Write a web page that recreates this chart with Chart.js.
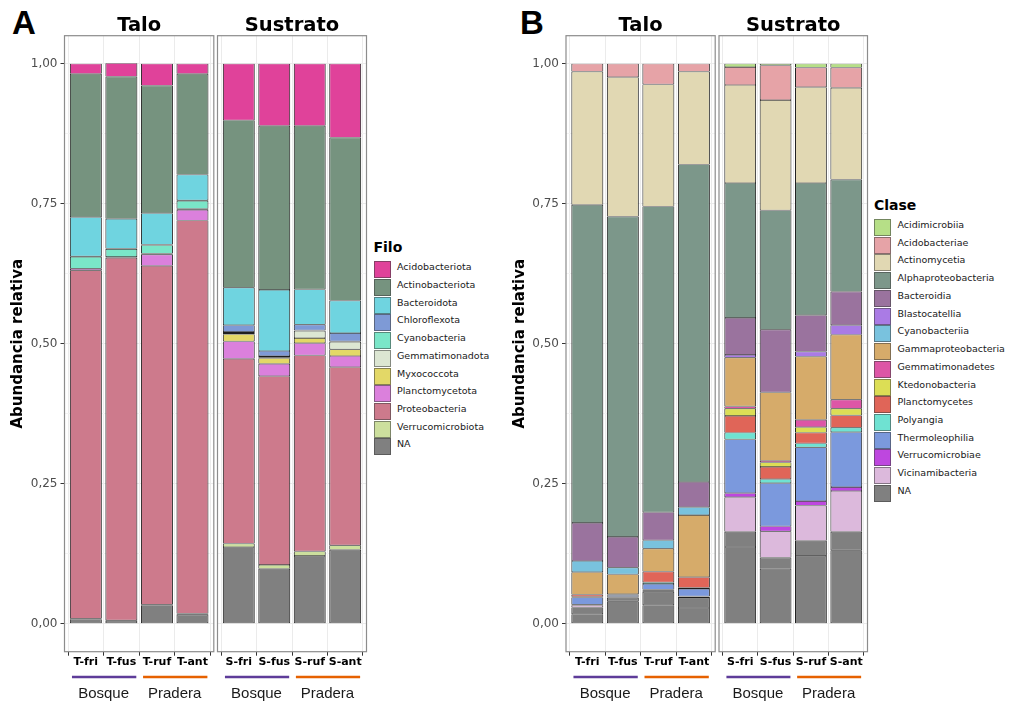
<!DOCTYPE html>
<html>
<head>
<meta charset="utf-8">
<title>Abundancia relativa por Filo y Clase</title>
<script src="https://cdn.jsdelivr.net/npm/chart.js@4.4.1/dist/chart.umd.min.js"></script>
<style>
  html, body { margin: 0; padding: 0; background: #fff; }
  #fig { position: relative; width: 1010px; height: 703px; overflow: hidden; background: #fff; }
  canvas { position: absolute; top: 0; }
  .tag { position: absolute; font: bold 33px "Liberation Sans", Arial, sans-serif; line-height: 33px; color: #000; }
  .legend { position: absolute; top: 0; }
  .lt { position: absolute; left: 0; font: bold 14px "DejaVu Sans", sans-serif; line-height: 16px; white-space: nowrap; color: #000; }
  .lr { position: absolute; left: 0; height: 17px; white-space: nowrap; }
  .lk { position: absolute; left: 0; top: 0; width: 17px; height: 17px; box-sizing: border-box; border: 1px solid rgba(60,60,60,0.55); }
  .ll { position: absolute; left: 23.5px; top: 0; line-height: 17px; font: 9.5px "DejaVu Sans", sans-serif; color: #1a1a1a; }
</style>
</head>
<body>
<div id="fig">
  <div class="tag" style="left:12px; top:6px;">A</div>
  <div class="tag" style="left:520px; top:6px;">B</div>
  <canvas id="aTalo" width="216" height="703" style="left:0px"></canvas>
  <canvas id="aSustrato" width="156" height="703" style="left:215px"></canvas>
  <canvas id="bTalo" width="216" height="703" style="left:502px"></canvas>
  <canvas id="bSustrato" width="156" height="703" style="left:716px"></canvas>
  <div id="legFilo" class="legend" style="left:373.5px"></div>
  <div id="legClase" class="legend" style="left:874px"></div>
</div>
<script>
// ---- samples and groups ----
const samplesTalo = ['T-fri', 'T-fus', 'T-ruf', 'T-ant'];
const samplesSustrato = ['S-fri', 'S-fus', 'S-ruf', 'S-ant'];
const groupNames = ['Bosque', 'Pradera'];
const groupMembers = [[1, 2], [3, 4]];
const groupColors = ['#5E3C99', '#E66100'];

// ---- y axis ----
const yTickValues = [0, 0.25, 0.5, 0.75, 1];
const yTickLabels = ['0,00', '0,25', '0,50', '0,75', '1,00'];
const yTitle = 'Abundancia relativa';

// ---- Filo (phylum) ----
const filoNames = ['Acidobacteriota', 'Actinobacteriota', 'Bacteroidota', 'Chloroflexota', 'Cyanobacteria',
  'Gemmatimonadota', 'Myxococcota', 'Planctomycetota', 'Proteobacteria', 'Verrucomicrobiota', 'NA'];
const filoColors = ['#E0429A', '#76937F', '#6FD4E0', '#7E9AD6', '#7AE6C8',
  '#DCE6D2', '#E3D867', '#DB80DC', '#CD7A8C', '#CCDF9D', '#808080'];
// rows follow filoNames, columns follow the samples
const filoTalo = [
  [0.018, 0.024, 0.039, 0.018],
  [0.256, 0.254, 0.228, 0.180],
  [0.070, 0.053, 0.056, 0.046],
  [0.001, 0.001, 0.001, 0.001],
  [0.021, 0.014, 0.015, 0.014],
  [0.000, 0.000, 0.000, 0.000],
  [0.000, 0.001, 0.002, 0.002],
  [0.003, 0.001, 0.020, 0.019],
  [0.622, 0.647, 0.605, 0.702],
  [0.001, 0.001, 0.001, 0.002],
  [0.008, 0.005, 0.033, 0.016]
];
const filoSustrato = [
  [0.101, 0.111, 0.111, 0.132],
  [0.299, 0.293, 0.292, 0.291],
  [0.067, 0.109, 0.063, 0.058],
  [0.012, 0.009, 0.010, 0.015],
  [0.002, 0.002, 0.001, 0.001],
  [0.002, 0.002, 0.013, 0.013],
  [0.013, 0.010, 0.009, 0.012],
  [0.031, 0.022, 0.022, 0.020],
  [0.330, 0.337, 0.350, 0.318],
  [0.006, 0.007, 0.008, 0.008],
  [0.137, 0.098, 0.121, 0.132]
];

// ---- Clase (class) ----
const claseNames = ['Acidimicrobiia', 'Acidobacteriae', 'Actinomycetia', 'Alphaproteobacteria', 'Bacteroidia',
  'Blastocatellia', 'Cyanobacteriia', 'Gammaproteobacteria', 'Gemmatimonadetes', 'Ktedonobacteria',
  'Planctomycetes', 'Polyangia', 'Thermoleophilia', 'Verrucomicrobiae', 'Vicinamibacteria', 'NA'];
const claseColors = ['#B6DF87', '#E6A3A7', '#E1D8B3', '#7C978A', '#9A739E',
  '#AA7BE5', '#79C2DE', '#D6AB6A', '#DD56A6', '#DCDE55',
  '#E06558', '#6FE2D2', '#7B99DD', '#BE47DF', '#DCB9DC', '#808080'];
// last row: class unassigned within an assigned phylum
const claseTalo = [
  [0.000, 0.000, 0.000, 0.000],
  [0.014, 0.024, 0.037, 0.014],
  [0.238, 0.249, 0.218, 0.166],
  [0.568, 0.572, 0.546, 0.567],
  [0.068, 0.055, 0.050, 0.045],
  [0.000, 0.000, 0.000, 0.000],
  [0.020, 0.012, 0.015, 0.014],
  [0.040, 0.035, 0.041, 0.111],
  [0.000, 0.000, 0.000, 0.000],
  [0.000, 0.000, 0.000, 0.000],
  [0.004, 0.001, 0.019, 0.019],
  [0.001, 0.001, 0.003, 0.002],
  [0.013, 0.003, 0.010, 0.013],
  [0.001, 0.001, 0.002, 0.001],
  [0.004, 0.001, 0.002, 0.002],
  [0.012, 0.006, 0.024, 0.018]
];
const claseSustrato = [
  [0.006, 0.003, 0.007, 0.007],
  [0.032, 0.062, 0.035, 0.036],
  [0.175, 0.197, 0.171, 0.164],
  [0.241, 0.213, 0.236, 0.200],
  [0.066, 0.112, 0.065, 0.060],
  [0.005, 0.000, 0.009, 0.017],
  [0.000, 0.000, 0.000, 0.000],
  [0.087, 0.122, 0.113, 0.116],
  [0.004, 0.003, 0.013, 0.016],
  [0.013, 0.008, 0.010, 0.012],
  [0.030, 0.022, 0.019, 0.022],
  [0.012, 0.007, 0.007, 0.008],
  [0.096, 0.077, 0.096, 0.098],
  [0.007, 0.009, 0.008, 0.007],
  [0.062, 0.047, 0.063, 0.073],
  [0.027, 0.020, 0.027, 0.033]
];
// taxa without an assigned phylum (base of each bar)
const naFiloTalo = [0.017, 0.040, 0.033, 0.028];
const naFiloSustrato = [0.137, 0.098, 0.121, 0.131];

// ---- helpers ----
function series(label, color, vals) {
  return {
    label: label,
    backgroundColor: color,
    data: vals.map((v, j) => ({ x: j + 1, y: v > 0 ? v : null }))
  };
}
// Chart.js stacks from the first dataset upwards, so the last legend entry goes first
function buildDatasets(names, colors, rows, baseRow) {
  const ds = [];
  if (baseRow) ds.push(series('NA', colors[colors.length - 1], baseRow));
  for (let i = names.length - 1; i >= 0; i--) ds.push(series(names[i], colors[i], rows[i]));
  return ds;
}
function isMajor(v) { return yTickValues.some(t => Math.abs(t - v) < 1e-6); }
const yGridValues = [];
yTickValues.forEach((v, i) => {
  yGridValues.push(v);
  if (i < yTickValues.length - 1) yGridValues.push((v + yTickValues[i + 1]) / 2);
});

// panel border, strip title and sample groups under the axis
const facetDecor = {
  id: 'facetDecor',
  afterDraw(chart, args, opts) {
    const { ctx, chartArea: a, scales: { x } } = chart;
    ctx.save();
    ctx.strokeStyle = '#8C8C8C';
    ctx.lineWidth = 1.2;
    ctx.strokeRect(a.left, a.top, a.right - a.left, a.bottom - a.top);

    ctx.fillStyle = '#000';
    ctx.font = 'bold 19.5px "DejaVu Sans"';
    ctx.textAlign = 'center';
    ctx.textBaseline = 'alphabetic';
    ctx.fillText(opts.title, (a.left + a.right) / 2, 31);

    groupNames.forEach((g, i) => {
      const m = groupMembers[i];
      const x0 = x.getPixelForValue(m[0] - 0.39);
      const x1 = x.getPixelForValue(m[m.length - 1] + 0.42);
      ctx.strokeStyle = groupColors[i];
      ctx.lineWidth = 2.5;
      ctx.beginPath();
      ctx.moveTo(x0, 677);
      ctx.lineTo(x1, 677);
      ctx.stroke();
      ctx.fillStyle = '#1a1a1a';
      ctx.font = '15px "Liberation Sans"';
      ctx.fillText(g, x.getPixelForValue((m[0] + m[m.length - 1]) / 2), 697.5);
    });
    ctx.restore();
  }
};

function facetChart(id, cats, datasets, cfg) {
  return new Chart(document.getElementById(id), {
    type: 'bar',
    data: { datasets: datasets },
    plugins: [facetDecor],
    options: {
      responsive: false,
      animation: false,
      devicePixelRatio: 1,
      layout: { padding: { top: 35.7, bottom: 0, left: cfg.padL, right: cfg.padR } },
      datasets: {
        bar: {
          barPercentage: 0.9,
          categoryPercentage: 1,
          borderColor: '#1F1F1F',
          borderWidth: { left: 1, right: 1, top: 0.6, bottom: 0.6 },
          borderSkipped: false
        }
      },
      scales: {
        x: {
          type: 'linear', stacked: true, min: 0.4, max: 4.6, offset: false,
          afterBuildTicks: s => { s.ticks = cats.map((c, i) => ({ value: i + 1 })); },
          afterFit: s => { s.height = 703 - 651.7; },
          grid: { color: '#EBEBEB', lineWidth: 1, drawTicks: true, tickLength: 4, tickColor: '#333', tickWidth: 1 },
          border: { display: false },
          ticks: {
            autoSkip: false, maxRotation: 0, minRotation: 0, padding: 0, color: '#000',
            font: { family: 'DejaVu Sans', size: 11, weight: 'bold' },
            callback: v => cats[Math.round(v) - 1]
          }
        },
        y: {
          type: 'linear', stacked: true, min: -0.05, max: 1.05,
          afterBuildTicks: s => { s.ticks = yGridValues.map(v => ({ value: v })); },
          afterFit: s => { s.width = cfg.yWidth; },
          grid: {
            color: c => (c.tick && isMajor(c.tick.value)) ? '#EBEBEB' : '#F3F3F3',
            lineWidth: 1,
            drawTicks: cfg.showY, tickLength: 4, tickWidth: 1,
            tickColor: c => (c.tick && isMajor(c.tick.value)) ? '#333' : 'rgba(0,0,0,0)'
          },
          border: { display: false },
          ticks: {
            display: cfg.showY, padding: 3, color: '#4D4D4D',
            font: { family: 'DejaVu Sans', size: 12 },
            callback: v => {
              const i = yTickValues.findIndex(t => Math.abs(t - v) < 1e-6);
              return i >= 0 ? yTickLabels[i] : '';
            }
          },
          title: {
            display: cfg.showY, text: yTitle, color: '#000',
            font: { family: 'DejaVu Sans', size: 15, weight: 'bold' },
            padding: { top: 9, bottom: 0 }
          }
        }
      },
      plugins: {
        legend: { display: false },
        tooltip: { enabled: false },
        facetDecor: { title: cfg.title }
      }
    }
  });
}

function drawLegend(id, title, names, colors, titleTop, keyTop, pitch) {
  const box = document.getElementById(id);
  const t = document.createElement('div');
  t.className = 'lt';
  t.style.top = titleTop + 'px';
  t.textContent = title;
  box.appendChild(t);
  names.forEach((n, i) => {
    const row = document.createElement('div');
    row.className = 'lr';
    row.style.top = (keyTop + i * pitch) + 'px';
    const k = document.createElement('span');
    k.className = 'lk';
    k.style.background = colors[i];
    const s = document.createElement('span');
    s.className = 'll';
    s.textContent = n;
    row.appendChild(k);
    row.appendChild(s);
    box.appendChild(row);
  });
}

Chart.defaults.font.family = 'DejaVu Sans';

facetChart('aTalo', samplesTalo, buildDatasets(filoNames, filoColors, filoTalo),
  { title: 'Talo', showY: true, yWidth: 64.5, padL: 0, padR: 2.2 });
facetChart('aSustrato', samplesSustrato, buildDatasets(filoNames, filoColors, filoSustrato),
  { title: 'Sustrato', showY: false, yWidth: 0, padL: 2.5, padR: 4.5 });
facetChart('bTalo', samplesTalo, buildDatasets(claseNames, claseColors, claseTalo, naFiloTalo),
  { title: 'Talo', showY: true, yWidth: 64, padL: 0, padR: 2.8 });
facetChart('bSustrato', samplesSustrato, buildDatasets(claseNames, claseColors, claseSustrato, naFiloSustrato),
  { title: 'Sustrato', showY: false, yWidth: 0, padL: 3, padR: 4.5 });

drawLegend('legFilo', 'Filo', filoNames, filoColors, 239, 261.3, 17.7);
drawLegend('legClase', 'Clase', claseNames, claseColors, 197, 219, 17.73);
</script>
</body>
</html>
